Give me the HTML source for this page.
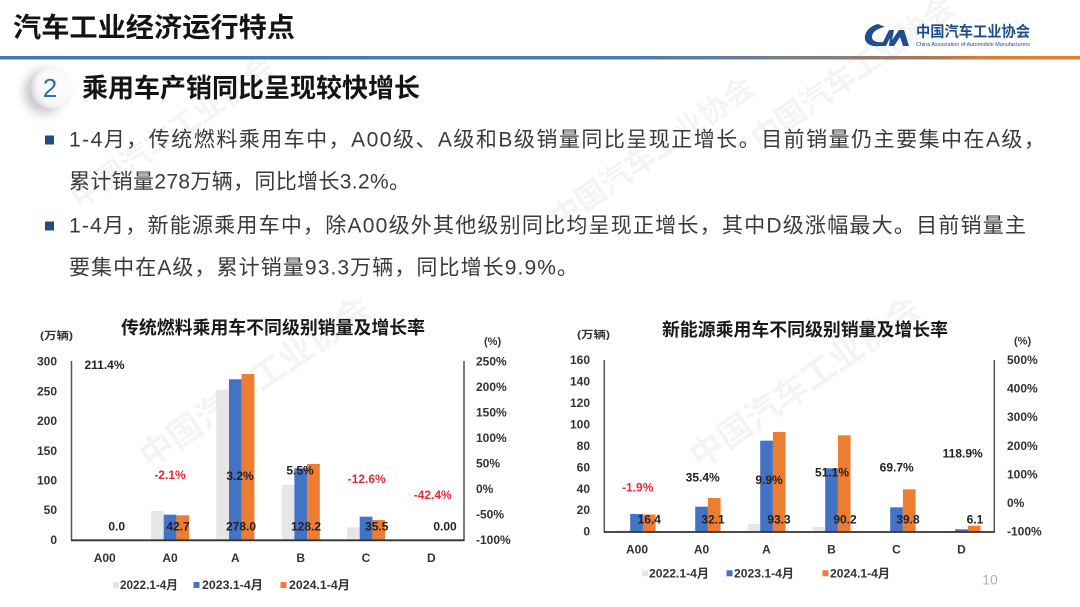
<!DOCTYPE html>
<html><head><meta charset="utf-8"><style>
html,body{margin:0;padding:0;background:#fff;}
svg{display:block;}
text{font-family:"Liberation Sans","Noto Sans CJK SC",sans-serif;}
</style></head><body>
<svg width="1080" height="607" viewBox="0 0 1080 607" xmlns="http://www.w3.org/2000/svg">
<defs>
<linearGradient id="line" x1="0" x2="1" y1="0" y2="0">
<stop offset="0" stop-color="#3f78bd"/><stop offset="0.58" stop-color="#4a7cb8"/>
<stop offset="0.75" stop-color="#7d7d80"/><stop offset="0.86" stop-color="#a8775a"/>
<stop offset="0.92" stop-color="#e07b35"/><stop offset="1" stop-color="#ea7d30"/>
</linearGradient>
<radialGradient id="circ" cx="0.6" cy="0.45" r="0.6">
<stop offset="0" stop-color="#ffffff"/><stop offset="0.75" stop-color="#f7f7f7"/><stop offset="1" stop-color="#dcdcdc"/>
</radialGradient>
<filter id="blur" x="-50%" y="-50%" width="200%" height="200%"><feGaussianBlur stdDeviation="5"/></filter>
</defs>

<!-- watermarks -->
<g fill="#000" fill-opacity="0.045" font-weight="bold">
<text x="150" y="470" font-size="34" transform="rotate(-35 150 470)">中国汽车工业协会</text>
<text x="700" y="470" font-size="34" transform="rotate(-35 700 470)">中国汽车工业协会</text>
<text x="80" y="210" font-size="30" transform="rotate(-35 80 210)">中国汽车工业协会</text>
<text x="560" y="230" font-size="30" transform="rotate(-35 560 230)">中国汽车工业协会</text>
<text x="760" y="150" font-size="30" transform="rotate(-35 760 150)">中国汽车工业协会</text>
</g>

<!-- header -->
<text x="13" y="28" font-size="27" font-weight="bold" fill="#141414" dominant-baseline="central" textLength="282" lengthAdjust="spacingAndGlyphs">汽车工业经济运行特点</text>
<rect x="0" y="56" width="1080" height="3.5" fill="url(#line)"/>

<!-- logo -->
<g fill="#1f4e8c">
<path d="M878 24 C870 26 864 32 865 39 C866 45 873 47 881 46 L884 42 C877 43 872 41 872 37 C872 32 878 28 885 27 Z"/>
<path d="M881 46 L889 30 L894 30 L892 40 L899 30 L904 30 L909 46 L903 46 L900 37 L894 46 L889 46 L890 38 L886 46 Z"/>
</g>
<text x="916" y="32" font-size="15" font-weight="bold" fill="#1f4e8c" dominant-baseline="central" textLength="114" lengthAdjust="spacingAndGlyphs">中国汽车工业协会</text>
<text x="916" y="45" font-size="5" fill="#1f4e8c" dominant-baseline="central" textLength="114" lengthAdjust="spacingAndGlyphs">China Association of Automobile Manufacturers</text>

<!-- section heading -->
<ellipse cx="44" cy="92" rx="20" ry="22" fill="#9a9a9a" fill-opacity="0.55" filter="url(#blur)"/>
<circle cx="52" cy="88" r="21" fill="url(#circ)"/>
<text x="50" y="88" font-size="26" fill="#2f6eb0" text-anchor="middle" dominant-baseline="central">2</text>
<text x="82" y="88" font-size="26" font-weight="bold" fill="#141414" dominant-baseline="central" textLength="338" lengthAdjust="spacingAndGlyphs">乘用车产销同比呈现较快增长</text>

<!-- bullets -->
<rect x="45" y="135.5" width="9" height="9" fill="#1f4e79"/>
<rect x="45" y="221.5" width="9" height="9" fill="#1f4e79"/>
<g font-size="21" fill="#3a3a3a">
<text x="69" y="140" dominant-baseline="central" textLength="976" lengthAdjust="spacing">1-4月，传统燃料乘用车中，A00级、A级和B级销量同比呈现正增长。目前销量仍主要集中在A级，</text>
<text x="69" y="182" dominant-baseline="central" textLength="341" lengthAdjust="spacing">累计销量278万辆，同比增长3.2%。</text>
<text x="69" y="226" dominant-baseline="central" textLength="957" lengthAdjust="spacing">1-4月，新能源乘用车中，除A00级外其他级别同比均呈现正增长，其中D级涨幅最大。目前销量主</text>
<text x="69" y="268" dominant-baseline="central" textLength="509" lengthAdjust="spacing">要集中在A级，累计销量93.3万辆，同比增长9.9%。</text>
</g>

<!-- ============ LEFT CHART ============ -->
<text x="121" y="328" font-size="18" font-weight="bold" fill="#1a1a1a" dominant-baseline="central" textLength="304" lengthAdjust="spacingAndGlyphs">传统燃料乘用车不同级别销量及增长率</text>
<text x="40" y="336" font-size="10.5" font-weight="bold" fill="#333" dominant-baseline="central" textLength="33" lengthAdjust="spacingAndGlyphs">(万辆)</text>
<text x="484" y="342" font-size="11" font-weight="bold" fill="#333" dominant-baseline="central">(%)</text>

<g font-size="12" font-weight="bold" fill="#333" dominant-baseline="central">
<g text-anchor="end">
<text x="57" y="361.7">300</text><text x="57" y="391.4">250</text><text x="57" y="421.1">200</text>
<text x="57" y="450.8">150</text><text x="57" y="480.5">100</text><text x="57" y="510.2">50</text><text x="57" y="540">0</text>
</g>
<text x="476" y="361.7">250%</text><text x="476" y="387.2">200%</text><text x="476" y="412.6">150%</text>
<text x="476" y="438.1">100%</text><text x="476" y="463.6">50%</text><text x="476" y="489.1">0%</text>
<text x="476" y="514.5">-50%</text><text x="476" y="540">-100%</text>
<g text-anchor="middle">
<text x="104.7" y="558">A00</text><text x="170" y="558">A0</text><text x="235.3" y="558">A</text>
<text x="300.7" y="558">B</text><text x="366" y="558">C</text><text x="431.3" y="558">D</text>
</g>
</g>

<!-- bars left -->
<g>
<rect x="151" y="511" width="12.7" height="29" fill="#e6e6e6"/>
<rect x="163.7" y="514.7" width="12.7" height="25.3" fill="#4472c4"/>
<rect x="176.4" y="515.3" width="12.7" height="24.7" fill="#ed7d31"/>
<rect x="216.3" y="390" width="12.7" height="150" fill="#e6e6e6"/>
<rect x="229" y="379.3" width="12.7" height="160.7" fill="#4472c4"/>
<rect x="241.7" y="374" width="12.7" height="166" fill="#ed7d31"/>
<rect x="281.7" y="484.7" width="12.7" height="55.3" fill="#e6e6e6"/>
<rect x="294.4" y="468.3" width="12.7" height="71.7" fill="#4472c4"/>
<rect x="307.1" y="464" width="12.7" height="76" fill="#ed7d31"/>
<rect x="347" y="527.3" width="12.7" height="12.7" fill="#e6e6e6"/>
<rect x="359.7" y="516.7" width="12.7" height="23.3" fill="#4472c4"/>
<rect x="372.4" y="520" width="12.7" height="20" fill="#ed7d31"/>
</g>
<line x1="71.5" y1="361" x2="71.5" y2="540.5" stroke="#555" stroke-width="1.5"/>
<line x1="464" y1="361" x2="464" y2="540.5" stroke="#555" stroke-width="1.5"/>
<line x1="71" y1="540.3" x2="464.5" y2="540.3" stroke="#333" stroke-width="1.8"/>

<g font-size="12" font-weight="bold" text-anchor="middle" dominant-baseline="central">
<text x="104.5" y="365" fill="#222">211.4%</text>
<text x="170" y="475" fill="#e8283c">-2.1%</text>
<text x="240" y="476" fill="#222">3.2%</text>
<text x="300" y="470.7" fill="#222">5.5%</text>
<text x="366.7" y="479" fill="#e8283c">-12.6%</text>
<text x="432.7" y="495" fill="#e8283c">-42.4%</text>
<text x="116.7" y="526.7" fill="#222">0.0</text>
<text x="178" y="526.7" fill="#222">42.7</text>
<text x="241" y="526.7" fill="#222">278.0</text>
<text x="306" y="526.7" fill="#222">128.2</text>
<text x="376.7" y="526.7" fill="#222">35.5</text>
<text x="445" y="526.7" fill="#222">0.00</text>
</g>

<!-- legend left -->
<g font-size="12" font-weight="bold" fill="#333" dominant-baseline="central">
<rect x="113" y="582" width="6" height="6" fill="#e6e6e6"/>
<text x="120" y="585" textLength="58" lengthAdjust="spacingAndGlyphs">2022.1-4月</text>
<rect x="193.5" y="582" width="6" height="6" fill="#4472c4"/>
<text x="202" y="585" textLength="61" lengthAdjust="spacingAndGlyphs">2023.1-4月</text>
<rect x="280.5" y="582" width="6" height="6" fill="#ed7d31"/>
<text x="289" y="585" textLength="61" lengthAdjust="spacingAndGlyphs">2024.1-4月</text>
</g>

<!-- ============ RIGHT CHART ============ -->
<text x="662" y="330" font-size="18" font-weight="bold" fill="#1a1a1a" dominant-baseline="central" textLength="286" lengthAdjust="spacingAndGlyphs">新能源乘用车不同级别销量及增长率</text>
<text x="577" y="335" font-size="10.5" font-weight="bold" fill="#333" dominant-baseline="central" textLength="33" lengthAdjust="spacingAndGlyphs">(万辆)</text>
<text x="1014" y="341.7" font-size="11" font-weight="bold" fill="#333" dominant-baseline="central">(%)</text>

<g font-size="12" font-weight="bold" fill="#333" dominant-baseline="central">
<g text-anchor="end">
<text x="590" y="360">160</text><text x="590" y="381.5">140</text><text x="590" y="402.9">120</text>
<text x="590" y="424.4">100</text><text x="590" y="445.9">80</text><text x="590" y="467.3">60</text>
<text x="590" y="488.8">40</text><text x="590" y="510.2">20</text><text x="590" y="531.7">0</text>
</g>
<text x="1007" y="360">500%</text><text x="1007" y="388.6">400%</text><text x="1007" y="417.2">300%</text>
<text x="1007" y="445.9">200%</text><text x="1007" y="474.5">100%</text><text x="1007" y="503.1">0%</text>
<text x="1007" y="531.7">-100%</text>
<g text-anchor="middle">
<text x="637" y="549.3">A00</text><text x="701.5" y="549.3">A0</text><text x="766.5" y="549.3">A</text>
<text x="831.5" y="549.3">B</text><text x="896.5" y="549.3">C</text><text x="961.5" y="549.3">D</text>
</g>
</g>

<!-- bars right -->
<g>
<rect x="617.5" y="530.3" width="12.7" height="1.4" fill="#e6e6e6"/>
<rect x="630.2" y="514" width="12.7" height="17.7" fill="#4472c4"/>
<rect x="642.9" y="514.5" width="12.7" height="17.2" fill="#ed7d31"/>
<rect x="682.5" y="530.8" width="12.7" height="0.9" fill="#e6e6e6"/>
<rect x="695.2" y="506.7" width="12.7" height="25" fill="#4472c4"/>
<rect x="707.9" y="498" width="12.7" height="33.7" fill="#ed7d31"/>
<rect x="747.5" y="524" width="12.7" height="7.7" fill="#e6e6e6"/>
<rect x="760.2" y="440.7" width="12.7" height="91" fill="#4472c4"/>
<rect x="772.9" y="432" width="12.7" height="99.7" fill="#ed7d31"/>
<rect x="812.5" y="527" width="12.7" height="4.7" fill="#e6e6e6"/>
<rect x="825.2" y="468.3" width="12.7" height="63.4" fill="#4472c4"/>
<rect x="837.9" y="435.3" width="12.7" height="96.4" fill="#ed7d31"/>
<rect x="890.2" y="507.3" width="12.7" height="24.4" fill="#4472c4"/>
<rect x="902.9" y="489.3" width="12.7" height="42.4" fill="#ed7d31"/>
<rect x="955.2" y="529.3" width="12.7" height="2.4" fill="#4472c4"/>
<rect x="967.9" y="525.7" width="12.7" height="6" fill="#ed7d31"/>
</g>
<line x1="604.3" y1="360" x2="604.3" y2="532.2" stroke="#555" stroke-width="1.5"/>
<line x1="994.3" y1="360" x2="994.3" y2="532.2" stroke="#555" stroke-width="1.5"/>
<line x1="604" y1="532" x2="994.8" y2="532" stroke="#333" stroke-width="1.8"/>

<g font-size="12" font-weight="bold" text-anchor="middle" dominant-baseline="central">
<text x="637.7" y="487.7" fill="#e8283c">-1.9%</text>
<text x="702.7" y="477.7" fill="#222">35.4%</text>
<text x="769" y="480" fill="#222">9.9%</text>
<text x="832" y="472.7" fill="#222">51.1%</text>
<text x="896.7" y="467.3" fill="#222">69.7%</text>
<text x="962.7" y="453.3" fill="#222">118.9%</text>
<text x="649.3" y="519.3" fill="#222">16.4</text>
<text x="713" y="519.3" fill="#222">32.1</text>
<text x="779" y="519.3" fill="#222">93.3</text>
<text x="845" y="519.3" fill="#222">90.2</text>
<text x="908" y="519.3" fill="#222">39.8</text>
<text x="975" y="519.3" fill="#222">6.1</text>
</g>

<!-- legend right -->
<g font-size="12" font-weight="bold" fill="#333" dominant-baseline="central">
<rect x="642" y="570.3" width="6" height="6" fill="#e6e6e6"/>
<text x="649" y="573.3" textLength="60" lengthAdjust="spacingAndGlyphs">2022.1-4月</text>
<rect x="726.5" y="570.3" width="6" height="6" fill="#4472c4"/>
<text x="734" y="573.3" textLength="60" lengthAdjust="spacingAndGlyphs">2023.1-4月</text>
<rect x="822.5" y="570.3" width="6" height="6" fill="#ed7d31"/>
<text x="830" y="573.3" textLength="60" lengthAdjust="spacingAndGlyphs">2024.1-4月</text>
</g>

<text x="990" y="579.5" font-size="14" fill="#b0b0b0" text-anchor="middle" dominant-baseline="central">10</text>
</svg>
</body></html>
